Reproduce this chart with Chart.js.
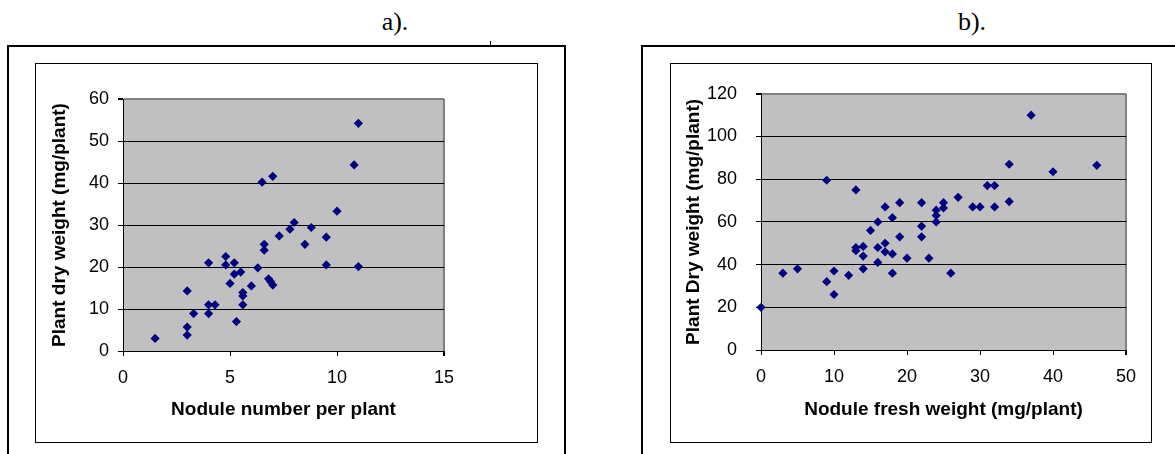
<!DOCTYPE html>
<html><head><meta charset="utf-8">
<script src="https://cdn.jsdelivr.net/npm/chart.js"></script>
<style>
html,body{margin:0;padding:0;background:#fff;width:1175px;height:454px;overflow:hidden;position:relative;font-family:"Liberation Sans",Arial,sans-serif}
.outer{position:absolute;border:2px solid #000;box-sizing:border-box}
.inner{position:absolute;border:1px solid #000;box-sizing:border-box;background:#fff}
.lbl{position:absolute;font-family:"Liberation Serif","Times New Roman",serif;font-size:26px;line-height:26px;top:9px;transform:translateX(-50%)}
canvas{position:absolute}
</style></head><body>
<div class="lbl" style="left:395px">a).</div>
<div class="lbl" style="left:972px">b).</div>
<div style="position:absolute;left:490px;top:41px;width:1px;height:5px;background:#000"></div>
<div class="outer" style="left:7px;top:45px;width:559px;height:420px"></div>
<div class="outer" style="left:641px;top:45px;width:560px;height:420px"></div>
<div class="inner" style="left:35px;top:63px;width:503px;height:380px"></div>
<div class="inner" style="left:670px;top:63px;width:482px;height:380px"></div>
<canvas id="ca" width="501" height="378" style="left:36px;top:64px"></canvas>
<canvas id="cb" width="480" height="378" style="left:671px;top:64px"></canvas>
<script>
// ---- Chart a data ----
const noduleNumberA = [1.5,3,3,3,3.3,4,4,4,4.3,4.8,4.8,5,5.2,5.2,5.5,5.3,5.6,5.6,5.6,6,6.3,6.6,6.6,6.8,6.9,7,8.5,9.5,11,6.5,7,7.3,7.8,8,8.8,9.5,10,10.8,11];
const dryWeightA   = [3,14.3,5.7,3.8,8.9,21,11,8.9,11,22.5,20.5,16.1,21,18.3,18.8,7,13.9,13.1,11,15.5,19.8,25.4,24,17.2,16.5,15.7,25.4,20.5,20.1,40.2,41.6,27.4,29,30.6,29.4,27.1,33.3,44.3,54.2];
const xTicksA = [0,5,10,15];
const yTicksA = [0,10,20,30,40,50,60];
const xTitleA = 'Nodule number per plant';
const yTitleA = 'Plant dry weight (mg/plant)';

// ---- Chart b data ----
const noduleFreshB = [0,3,5,9,10,10,12,13,13,14,14,14,16,16,17,17,18,18,20,23,26,9,13,17,19,22,18,16,15,22,19,22,24,24,24,25,25,27,29,30,31,32,32,34,34,37,40,46];
const dryWeightB   = [20,36,38,32,37,26,35,48,46.5,48.5,44,38,48,41,50,46,45,36,43,43,36,79.5,75,67,69,69,62,60,56,58,53,53,65.5,63,60,69,66.5,71.5,67,67,77,77,67,69.5,87,110,83.5,86.5];
const xTicksB = [0,10,20,30,40,50];
const yTicksB = [0,20,40,60,80,100,120];
const xTitleB = 'Nodule fresh weight (mg/plant)';
const yTitleB = 'Plant Dry weight (mg/plant)';

const FONT = '"Liberation Sans", Arial, sans-serif';
const plotBg = {
  id: 'plotBg',
  beforeDraw(chart) {
    const {ctx, chartArea: a} = chart;
    ctx.save();
    ctx.fillStyle = '#C0C0C0';
    ctx.fillRect(a.left, a.top, a.right - a.left, a.bottom - a.top);
    ctx.restore();
  }
};

function makeChart(id, xs, ys, xt, yt, xTitle, yTitle, g) {
  const pts = xs.map((x, i) => ({x: x, y: ys[i]}));
  const xMax = xt[xt.length - 1], yMax = yt[yt.length - 1];
  return new Chart(document.getElementById(id), {
    type: 'scatter',
    data: { datasets: [{ data: pts, pointStyle: 'rectRot', pointRadius: 4.6, pointHoverRadius: 4.6,
      backgroundColor: '#000080', borderColor: '#000080', borderWidth: 0, clip: false }] },
    options: {
      responsive: false, animation: false, events: [],
      layout: { padding: { top: g.top, right: g.right, left: 0, bottom: 0 } },
      plugins: { legend: { display: false }, tooltip: { enabled: false } },
      scales: {
        x: {
          type: 'linear', min: xt[0], max: xMax,
          afterBuildTicks: s => { s.ticks = xt.map(v => ({value: v})); },
          afterFit: s => { s.height = g.xh; },
          ticks: { font: { size: 18, family: FONT }, color: '#000', padding: 11, maxRotation: 0 },
          grid: { drawOnChartArea: true, tickLength: 5, tickColor: '#000',
            color: c => (c.tick && c.tick.value === xMax) ? '#808080' : 'rgba(0,0,0,0)',
            lineWidth: c => (c.tick && c.tick.value === xMax) ? 2 : 1 },
          border: { display: true, color: '#000', width: 1 },
          title: { display: true, text: xTitle, color: '#000', font: { size: 19, weight: 'bold', family: FONT }, padding: { top: 0, bottom: g.xtp } }
        },
        y: {
          type: 'linear', min: yt[0], max: yMax,
          afterBuildTicks: s => { s.ticks = yt.map(v => ({value: v})); },
          afterFit: s => { s.width = g.yw; },
          ticks: { font: { size: 18, family: FONT }, color: '#000', padding: g.ypad },
          grid: { tickLength: 5, tickColor: '#000',
            color: c => (c.tick && c.tick.value === yMax) ? '#808080' : '#000',
            lineWidth: c => (c.tick && c.tick.value === yMax) ? 2 : 1 },
          border: { display: true, color: '#000', width: 1 },
          title: { display: true, text: yTitle, color: '#000', font: { size: 19, weight: 'bold', family: FONT }, padding: { top: g.ytp, bottom: 0 } }
        }
      }
    },
    plugins: [plotBg]
  });
}

makeChart('ca', noduleNumberA, dryWeightA, xTicksA, yTicksA, xTitleA, yTitleA,
  { top: 35, right: 93, xh: 91, yw: 87, ypad: 9, ytp: 12.6, xtp: 20.6 });
makeChart('cb', noduleFreshB, dryWeightB, xTicksB, yTicksB, xTitleB, yTitleB,
  { top: 29, right: 25, xh: 92, yw: 90, ypad: 19, ytp: 11.6, xtp: 20.6 });
</script>
</body></html>
